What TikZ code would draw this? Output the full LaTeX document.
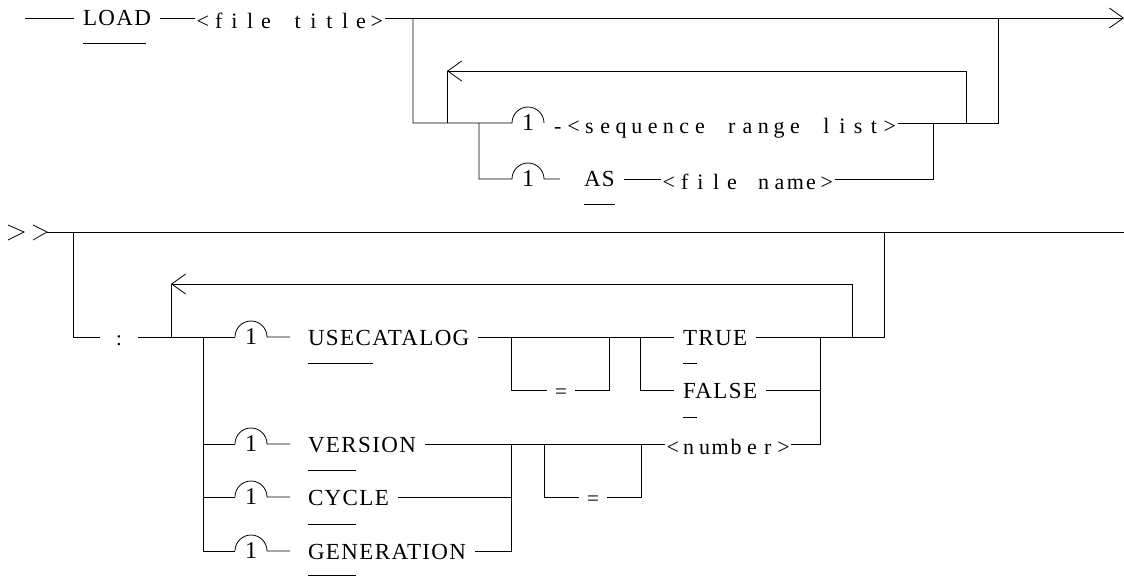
\documentclass[tikz,border=0pt]{standalone}
\usepackage{fontspec}
\setmainfont{Liberation Serif}
\newfontfamily\kwfamily[LetterSpace=6]{Liberation Serif}
\usetikzlibrary{arrows.meta}
% typewriter pitch for the <...> items
\newcommand\pitch{15.8pt}
\newcommand\spread[1]{\spreadi#1\relax}
\def\spreadi#1{\ifx\relax#1\else\makebox[\pitch][c]{#1}\expandafter\spreadi\fi}

\begin{document}
\begin{tikzpicture}[x=1pt, y=-1pt, line width=0.8pt,
    kw/.style={anchor=west, inner sep=0pt, outer xsep=9pt, text height=16pt, text depth=0pt, font=\kwfamily\fontsize{23}{23}\selectfont},
    var/.style={anchor=west, inner sep=0pt, outer xsep=0pt, text height=21pt, text depth=0pt, font=\fontsize{22}{22}\selectfont},
    eqsign/.style={inner sep=0pt, minimum width=28pt, text height=16pt, text depth=0pt, font=\fontsize{21}{21}\selectfont},
    onenum/.style={inner sep=0pt, font=\fontsize{24}{24}\selectfont},
    barb/.tip={Straight Barb[length=14pt,width=20pt]}
]
\useasboundingbox (0,0) rectangle (1124,577);

% First line: LOAD <file title>
\coordinate (start) at (25,18);
\coordinate (end1) at (1124,18);
\node[kw] (load) at (74,18) {LOAD};
\node[var] (ftitle) at (195,18) {\spread{<file~title>}};
\draw (start) -- (load.west);
\draw (load.east) -- (ftitle.west);
\draw[-barb] (ftitle.east) -- (end1);
\draw (83,43) -- (146,43);

% Options of the first line
\coordinate (a1) at (413,18);
\coordinate (a2) at (413,123);
\coordinate (b1) at (998,18);
\coordinate (b2) at (998,123);
\coordinate (p1) at (512,123);
\node[onenum] (o1) at (528,123) {1};
\node[var] (seq) at (550,123) {\spread{-<sequence~range~list>}};
\draw (a1) -- (a2) -- (p1) arc[start angle=180, end angle=0, radius=16pt];
\draw (seq.east) -- (b2) -- (b1);
% repeat loop
\coordinate (l1) at (447,123);
\coordinate (l2) at (447,71);
\coordinate (l3) at (966,71);
\coordinate (l4) at (966,123);
\draw (l1) -- (l2);
\draw[barb-] (l2) -- (l3) -- (l4);
% AS <file name>
\coordinate (c1) at (479,123);
\coordinate (p2) at (512,179);
\coordinate (t2) at (560,179);
\coordinate (b3) at (933,123);
\node[onenum] (o2) at (528,179) {1};
\node[kw] (as) at (575,179) {AS};
\node[var] (fname) at (661,179) {\spread{<file~name>}};
\draw (c1) |- (p2) arc[start angle=180, end angle=0, radius=16pt] -- (t2);
\draw (as.east) -- (fname.west);
\draw (fname.east) -| (b3);
\draw (584,204) -- (615,204);

% Second line: continuation
\draw (8,225) -- (24,232) -- (8,240);
\draw (33,225) -- (47,232) -- (33,240);
\coordinate (r2s) at (47,232);
\coordinate (r2e) at (1124,232);
\draw (r2s) -- (r2e);
\coordinate (d1) at (73,232);
\coordinate (d2) at (73,337);
\node[eqsign, minimum width=38pt] (colon) at (119,337) {:};
\draw (d1) -- (d2) -- (colon.west);
\coordinate (v1) at (884,337);
\coordinate (v2) at (884,232);
% repeat loop
\coordinate (m1) at (171,337);
\coordinate (m2) at (171,284);
\coordinate (m3) at (852,284);
\coordinate (m4) at (852,337);
\draw (m1) -- (m2);
\draw[barb-] (m2) -- (m3) -- (m4);

% Keyword rows
\coordinate (n1) at (203,337);
\coordinate (n4) at (203,551);
\coordinate (e1) at (235,337);
\draw (colon.east) -- (e1);
\draw (n1) -- (n4);
\foreach \y/\nm in {337/1, 444/2, 497/3, 551/4} {
  \ifnum\nm>1 \draw (203,\y) -- (235,\y); \fi
  \draw (235,\y) arc[start angle=180, end angle=0, radius=16pt] -- (290,\y);
  \node[onenum] (k\nm) at (251,\y) {1};
}
\node[kw] (usecat) at (299,337) {USECATALOG};
\node[kw] (version) at (299,444) {VERSION};
\node[kw] (cycle) at (299,497) {CYCLE};
\node[kw] (gen) at (299,551) {GENERATION};
\draw (308,363) -- (373,363);
\draw (308,470) -- (356,470);
\draw (308,524) -- (356,524);
\draw (308,575) -- (356,575);

% USECATALOG [=] TRUE/FALSE
\node[kw] (true) at (674,337) {TRUE};
\node[kw] (false) at (674,390) {FALSE};
\draw (683,363) -- (697,363);
\draw (683,417) -- (697,417);
\draw (usecat.east) -- (true.west);
\coordinate (q1) at (511,337);
\coordinate (q4) at (609,337);
\node[eqsign] (eq1) at (561,390) {=};
\draw (q1) |- (eq1.west);
\draw (eq1.east) -| (q4);
\coordinate (t1) at (640,337);
\draw (t1) |- (false.west);
\draw (true.east) -- (v1) -- (v2);
\coordinate (w1) at (820,337);
\draw (false.east) -| (w1);

% VERSION / CYCLE / GENERATION [=] <number>
\node[var] (number) at (665,444) {\spread{<number>}};
\draw (version.east) -- (number.west);
\draw (number.east) -| (w1);
\coordinate (x1) at (511,444);
\draw (cycle.east) -| (x1);
\draw (gen.east) -| (x1);
\coordinate (y1) at (544,444);
\coordinate (y2) at (641,444);
\node[eqsign] (eq2) at (593,497) {=};
\draw (y1) |- (eq2.west);
\draw (eq2.east) -| (y2);
\end{tikzpicture}
\end{document}
